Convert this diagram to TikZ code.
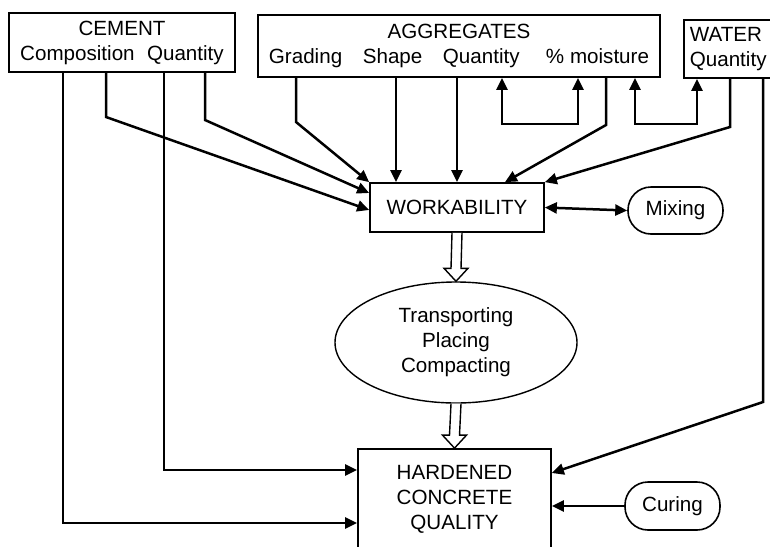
\documentclass[tikz,border=0pt]{standalone}
\usepackage{fontspec}
\setmainfont{Liberation Sans}
\usetikzlibrary{arrows.meta,shapes.geometric,calc}

\begin{document}
\begin{tikzpicture}[x=0.5pt, y=-0.5pt,
    every node/.style={font=\fontsize{10.3}{12.5}\selectfont, inner sep=0pt},
    box/.style={draw, line width=0.85pt, align=center},
    pill/.style={draw, line width=0.8pt, rounded corners=11.5pt},
    link/.style={line width=1.25pt, -{Triangle[length=6pt,width=5.5pt]}},
    twoway/.style={line width=1.25pt, {Triangle[length=6pt,width=5.5pt]}-{Triangle[length=6pt,width=5.5pt]}}]
  \fill[white] (0,0) rectangle (770,546);
  \clip (0,0) rectangle (770,546);

  % boxes
  \node[box, minimum width=113pt, minimum height=29.5pt] (cement) at (122,42.5)
      {CEMENT\\Composition\hspace{0.6em}Quantity};
  \node[box, minimum width=201pt, minimum height=31pt] (agg) at (459,46)
      {AGGREGATES\\Grading\quad Shape\quad Quantity\quad\ \% moisture};
  \node[box, align=left, text width=48pt, inner xsep=3pt, minimum height=29pt,
      anchor=west] (water) at (683,49) {WATER\\Quantity};
  \node[box, minimum width=87pt, minimum height=24.5pt] (work) at (457,207.5) {WORKABILITY};
  \node[pill, minimum width=47.5pt, minimum height=23.5pt] (mix) at (675.5,210.5) {Mixing};
  \node[draw, ellipse, line width=0.7pt, minimum width=121pt, minimum height=60.5pt,
      align=center] (ell) at (456,342.5) {Transporting\\Placing\\Compacting};
  \node[box, minimum width=96.5pt, minimum height=50pt] (hard) at (454.5,499)
      {HARDENED\\CONCRETE\\QUALITY};
  \node[pill, minimum width=47.5pt, minimum height=24pt] (cur) at (672.5,506) {Curing};

  % cement
  \draw[link] (63,0 |- cement.south) -- (63,523) -- (0,523 -| hard.west);
  \draw[link] (106,0 |- cement.south) -- (106,117) -- (0,210 -| work.west);
  \draw[link] (164,0 |- cement.south) -- (164,470) -- (0,470 -| hard.west);
  \draw[link] (205,0 |- cement.south) -- (205,120) -- (0,193 -| work.west);

  % aggregates and water
  \draw[link] (296,0 |- agg.south) -- (296,122) -- (work.north west);
  \foreach \x in {396, 457} {
      \draw[link] (\x,0 |- agg.south) -- (\x,0 |- work.north);
  }
  \draw[link] (606,0 |- agg.south) -- (606,125) -- (505,0 |- work.north);
  \draw[link] (730,0 |- water.south) -- (730,127) -- (work.north east);
  \draw[link] (763,0 |- water.south) -- (763,402) -- (0,473 -| hard.east);
  \foreach \a/\b/\n in {502/578/agg, 635/697/water} {
      \draw[twoway] (\a,0 |- agg.south) -- (\a,124) -- (\b,124) -- (\b,0 |- \n.south);
  }

  % side steps
  \draw[twoway] (work.east) -- (mix.west);
  \draw[link] (cur.west) -- (cur.west -| hard.east);

  % open arrows
  \foreach \a/\b in {work/ell, ell/hard} {
      \draw[line width=0.7pt, fill=white] ($(\a.south)+(-5,0)$) -- ($(\b.north)+(-5,-13)$)
          -- ($(\b.north)+(-12,-13)$) -- (\b.north) -- ($(\b.north)+(12,-13)$)
          -- ($(\b.north)+(5,-13)$) -- ($(\a.south)+(5,0)$);
  }
\end{tikzpicture}
\end{document}
